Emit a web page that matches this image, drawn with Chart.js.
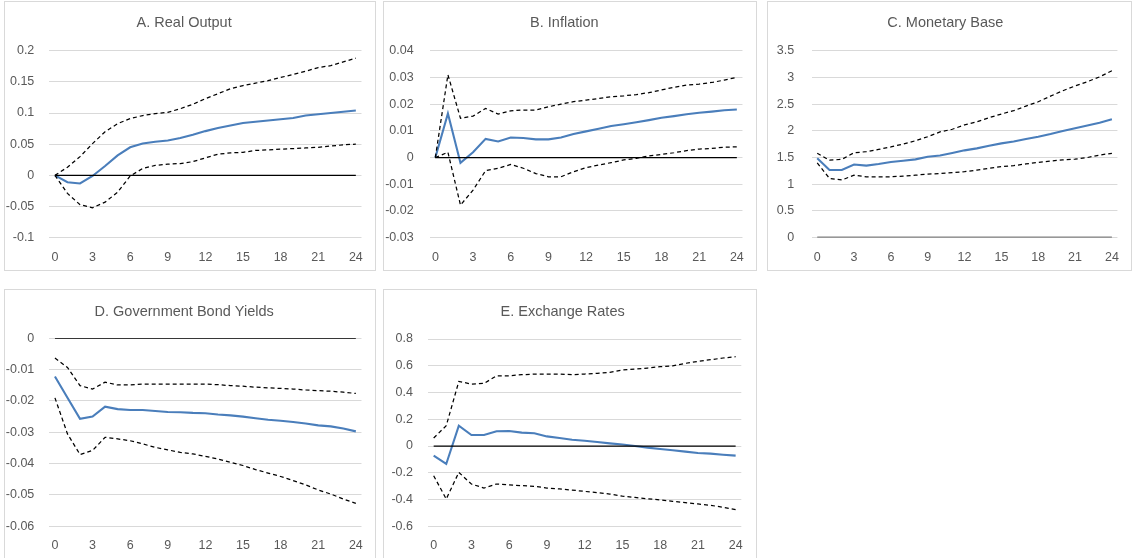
<!DOCTYPE html>
<html>
<head>
<meta charset="utf-8">
<script src="https://cdn.jsdelivr.net/npm/chart.js@4.4.1/dist/chart.umd.min.js"></script>
<style>
  html, body { margin: 0; padding: 0; background: #ffffff; }
  body { width: 1132px; height: 558px; position: relative; overflow: hidden; }
  .panel { position: absolute; box-sizing: border-box; border: 1px solid #d9d9d9; background: #ffffff; overflow: hidden; }
  .panel canvas { position: absolute; left: 0; top: 0; }
</style>
</head>
<body>
<div class="panel" style="left:4px;top:1px;width:372px;height:270px"><canvas id="chartOutput" width="370" height="268"></canvas></div>
<div class="panel" style="left:383px;top:1px;width:374px;height:270px"><canvas id="chartInflation" width="372" height="268"></canvas></div>
<div class="panel" style="left:767px;top:1px;width:365px;height:270px"><canvas id="chartBase" width="363" height="268"></canvas></div>
<div class="panel" style="left:4px;top:289px;width:372px;height:270px"><canvas id="chartYields" width="370" height="268"></canvas></div>
<div class="panel" style="left:383px;top:289px;width:374px;height:270px"><canvas id="chartFx" width="372" height="268"></canvas></div>

<script>
// Horizon (months after the shock) and the labelled ticks on the horizontal axis
const periods = [0, 1, 2, 3, 4, 5, 6, 7, 8, 9, 10, 11, 12, 13, 14, 15, 16, 17, 18, 19, 20, 21, 22, 23, 24];
const xTickLabels = [0, 3, 6, 9, 12, 15, 18, 21, 24];

// A. Real Output
const outputTitle = 'A. Real Output';
const outputIrf   = [0, -0.011, -0.013, -0.001, 0.015, 0.032, 0.045, 0.051, 0.054, 0.056, 0.060, 0.065, 0.071, 0.076, 0.080, 0.084, 0.086, 0.088, 0.090, 0.092, 0.096, 0.098, 0.100, 0.102, 0.104];
const outputUpper = [0, 0.013, 0.030, 0.051, 0.070, 0.083, 0.091, 0.096, 0.099, 0.101, 0.107, 0.114, 0.123, 0.131, 0.139, 0.144, 0.148, 0.152, 0.157, 0.162, 0.167, 0.173, 0.176, 0.182, 0.188];
const outputLower = [0, -0.029, -0.047, -0.052, -0.043, -0.027, -0.001, 0.011, 0.016, 0.018, 0.019, 0.022, 0.028, 0.034, 0.036, 0.037, 0.040, 0.041, 0.042, 0.043, 0.044, 0.045, 0.047, 0.049, 0.050];
const outputTicks = [-0.1, -0.05, 0, 0.05, 0.1, 0.15, 0.2];

// B. Inflation
const inflationTitle = 'B. Inflation';
const inflationIrf   = [0, 0.0165, -0.002, 0.002, 0.007, 0.006, 0.0075, 0.0073, 0.0068, 0.0068, 0.0075, 0.0088, 0.0098, 0.0108, 0.0118, 0.0125, 0.0132, 0.0140, 0.0149, 0.0155, 0.0162, 0.0168, 0.0172, 0.0177, 0.0180];
const inflationUpper = [0, 0.031, 0.0147, 0.0155, 0.0184, 0.0163, 0.0175, 0.0178, 0.0178, 0.0190, 0.0200, 0.0209, 0.0215, 0.0221, 0.0228, 0.0231, 0.0236, 0.0243, 0.0253, 0.0263, 0.0271, 0.0275, 0.0281, 0.0290, 0.0300];
const inflationLower = [0, 0.002, -0.0178, -0.0122, -0.0049, -0.0040, -0.0026, -0.0040, -0.0060, -0.0072, -0.0072, -0.0053, -0.0038, -0.0028, -0.0019, -0.0009, -0.0003, 0.0006, 0.0012, 0.0018, 0.0026, 0.0032, 0.0034, 0.0039, 0.0040];
const inflationTicks = [-0.03, -0.02, -0.01, 0, 0.01, 0.02, 0.03, 0.04];

// C. Monetary Base
const baseTitle = 'C. Monetary Base';
const baseIrf   = [1.485, 1.266, 1.266, 1.37, 1.35, 1.38, 1.416, 1.44, 1.466, 1.516, 1.54, 1.585, 1.635, 1.672, 1.72, 1.765, 1.80, 1.846, 1.89, 1.94, 1.996, 2.05, 2.10, 2.15, 2.215];
const baseUpper = [1.58, 1.45, 1.466, 1.59, 1.61, 1.653, 1.70, 1.753, 1.815, 1.89, 1.98, 2.03, 2.11, 2.17, 2.246, 2.315, 2.377, 2.464, 2.545, 2.65, 2.75, 2.84, 2.92, 3.01, 3.125];
const baseLower = [1.40, 1.11, 1.08, 1.17, 1.14, 1.14, 1.14, 1.154, 1.17, 1.19, 1.20, 1.216, 1.235, 1.266, 1.30, 1.33, 1.35, 1.38, 1.41, 1.435, 1.455, 1.47, 1.50, 1.547, 1.58];
const baseTicks = [0, 0.5, 1, 1.5, 2, 2.5, 3, 3.5];

// D. Government Bond Yields
const yieldsTitle = 'D. Government Bond Yields';
const yieldsIrf   = [-0.0122, -0.019, -0.0257, -0.025, -0.0218, -0.0226, -0.0229, -0.0229, -0.0232, -0.0235, -0.0236, -0.0238, -0.0239, -0.0243, -0.0246, -0.0250, -0.0255, -0.0260, -0.0263, -0.0267, -0.0272, -0.0278, -0.0281, -0.0288, -0.0297];
const yieldsUpper = [-0.0063, -0.0093, -0.0151, -0.0162, -0.0140, -0.0149, -0.0149, -0.0146, -0.0146, -0.0146, -0.0146, -0.0146, -0.0146, -0.0148, -0.0151, -0.0153, -0.0156, -0.0158, -0.0160, -0.0162, -0.0165, -0.0167, -0.0169, -0.0172, -0.0176];
const yieldsLower = [-0.019, -0.0305, -0.0371, -0.0358, -0.0316, -0.0321, -0.0327, -0.0337, -0.0348, -0.0356, -0.0364, -0.0369, -0.0377, -0.0385, -0.0396, -0.0406, -0.0419, -0.0430, -0.0441, -0.0454, -0.0468, -0.0484, -0.0497, -0.0513, -0.0527];
const yieldsTicks = [-0.06, -0.05, -0.04, -0.03, -0.02, -0.01, 0];

// E. Exchange Rates
const fxTitle = 'E. Exchange Rates';
const fxIrf   = [-0.072, -0.134, 0.152, 0.082, 0.082, 0.110, 0.112, 0.100, 0.095, 0.072, 0.060, 0.047, 0.040, 0.030, 0.020, 0.012, 0.000, -0.012, -0.022, -0.032, -0.042, -0.052, -0.057, -0.065, -0.072];
const fxUpper = [0.060, 0.152, 0.483, 0.463, 0.468, 0.525, 0.525, 0.533, 0.538, 0.538, 0.538, 0.533, 0.538, 0.543, 0.550, 0.568, 0.575, 0.583, 0.593, 0.600, 0.618, 0.633, 0.645, 0.658, 0.668];
const fxLower = [-0.222, -0.396, -0.197, -0.284, -0.314, -0.284, -0.291, -0.296, -0.301, -0.314, -0.321, -0.329, -0.339, -0.349, -0.359, -0.374, -0.384, -0.394, -0.403, -0.413, -0.423, -0.433, -0.443, -0.458, -0.476];
const fxTicks = [-0.6, -0.4, -0.2, 0, 0.2, 0.4, 0.6, 0.8];

// Reference line at zero drawn across the horizon
const zeroLine = periods.map(() => 0);

const FONT = '"Liberation Sans", Arial, sans-serif';
const TEXT_COLOR = '#595959';
const GRID_COLOR = '#d9d9d9';
const IRF_COLOR = '#4a7ebb';
const TICK_SIZE = 12.5;
const TITLE_SIZE = 14.5;

function drawPanel(canvasId, title, irf, upper, lower, yTicks, box, zeroStyle) {
  const canvas = document.getElementById(canvasId);
  const H = canvas.height;
  const titleLine = TITLE_SIZE * 1.2;
  const titleTop = box.titleCenter - titleLine / 2;
  const band = { borderColor: '#000000', borderWidth: 1.25, borderDash: [4, 3], pointRadius: 0, fill: false };

  new Chart(canvas, {
    type: 'line',
    data: {
      labels: periods,
      datasets: [
        { data: zeroLine, borderColor: zeroStyle.color, borderWidth: zeroStyle.width, pointRadius: 0, fill: false },
        Object.assign({ data: upper }, band),
        Object.assign({ data: lower }, band),
        { data: irf, borderColor: IRF_COLOR, borderWidth: 2.1, pointRadius: 0, fill: false }
      ]
    },
    options: {
      responsive: false,
      animation: false,
      devicePixelRatio: 1,
      layout: { padding: { left: 0, right: canvas.width - box.right, top: 0, bottom: 0 } },
      elements: { line: { tension: 0 } },
      plugins: {
        legend: { display: false },
        tooltip: { enabled: false },
        title: {
          display: true,
          text: title,
          color: TEXT_COLOR,
          font: { family: FONT, size: TITLE_SIZE, weight: 'normal', lineHeight: 1.2 },
          padding: { top: titleTop, bottom: box.top - titleTop - titleLine }
        }
      },
      scales: {
        x: {
          type: 'linear',
          min: -0.45,
          max: 24.45,
          afterBuildTicks: (s) => { s.ticks = xTickLabels.map(v => ({ value: v })); },
          afterFit: (s) => { s.height = H - box.bottom; },
          grid: { display: false, drawTicks: false },
          border: { display: false },
          ticks: {
            color: TEXT_COLOR,
            font: { family: FONT, size: TICK_SIZE },
            padding: 12,
            maxRotation: 0,
            autoSkip: false,
            callback: (v) => String(v)
          }
        },
        y: {
          min: yTicks[0],
          max: yTicks[yTicks.length - 1],
          afterBuildTicks: (s) => { s.ticks = yTicks.map(v => ({ value: v })); },
          afterFit: (s) => { s.width = box.left; },
          grid: { color: GRID_COLOR, lineWidth: 1, drawTicks: false },
          border: { display: false },
          ticks: {
            color: TEXT_COLOR,
            font: { family: FONT, size: TICK_SIZE },
            padding: box.labelGap,
            autoSkip: false,
            callback: (v) => String(v)
          }
        }
      }
    }
  });
}

const blackZero = { color: '#000000', width: 1.25 };
const greyZero = { color: '#808080', width: 2.3 };

drawPanel('chartOutput', outputTitle, outputIrf, outputUpper, outputLower, outputTicks,
  { left: 44.3, right: 358.3, top: 48.7, bottom: 235.7, titleCenter: 21, labelGap: 15 }, blackZero);
drawPanel('chartInflation', inflationTitle, inflationIrf, inflationUpper, inflationLower, inflationTicks,
  { left: 45.7, right: 360.7, top: 48.7, bottom: 235.7, titleCenter: 21.3, labelGap: 16 }, blackZero);
drawPanel('chartBase', baseTitle, baseIrf, baseUpper, baseLower, baseTicks,
  { left: 43.7, right: 354.7, top: 48.7, bottom: 235.7, titleCenter: 21.3, labelGap: 17.5 }, greyZero);
drawPanel('chartYields', yieldsTitle, yieldsIrf, yieldsUpper, yieldsLower, yieldsTicks,
  { left: 44.3, right: 358.3, top: 48.3, bottom: 236.3, titleCenter: 22.3, labelGap: 15 }, blackZero);
drawPanel('chartFx', fxTitle, fxIrf, fxUpper, fxLower, fxTicks,
  { left: 44, right: 357.3, top: 49, bottom: 236.3, titleCenter: 22.3, labelGap: 15 }, blackZero);
</script>
</body>
</html>
